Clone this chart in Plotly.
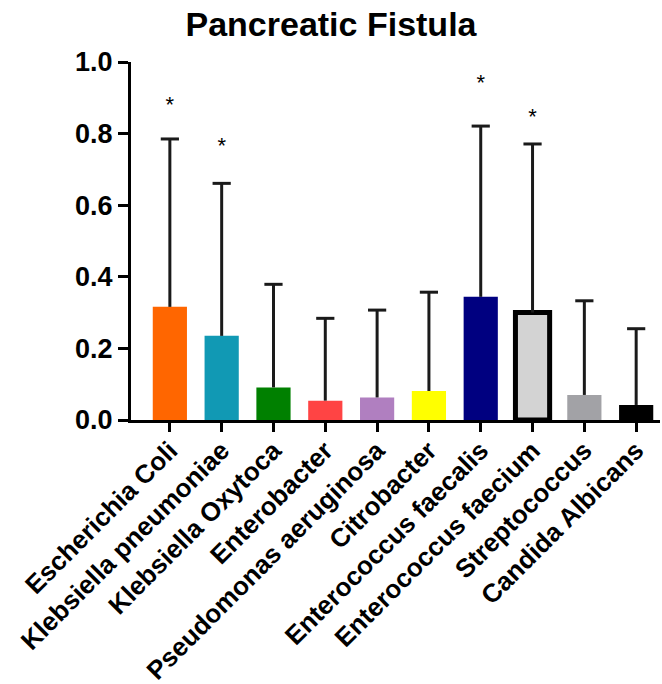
import plotly.graph_objects as go

categories = ["Escherichia Coli", "Klebsiella pneumoniae", "Klebsiella Oxytoca",
              "Enterobacter", "Pseudomonas aeruginosa", "Citrobacter",
              "Enterococcus faecalis", "Enterococcus faecium", "Streptococcus",
              "Candida Albicans"]
means = [0.316, 0.235, 0.091, 0.054, 0.063, 0.081, 0.344, 0.300, 0.070, 0.042]
upper = [0.785, 0.661, 0.379, 0.284, 0.307, 0.357, 0.821, 0.771, 0.333, 0.255]
colors = ["#ff6600", "#1199b4", "#008000", "#ff4444", "#b07fc0", "#ffff00",
          "#000080", "#d3d3d3", "#a2a2a6", "#000000"]
outline_w = [0, 0, 0, 0, 0, 0, 0, 5, 0, 0]
star_cats = ["Escherichia Coli", "Klebsiella pneumoniae", "Enterococcus faecalis",
             "Enterococcus faecium"]
star_y = [0.875, 0.762, 0.936, 0.843]
y_ticks = [0.0, 0.2, 0.4, 0.6, 0.8, 1.0]

err_plus = [u - m for u, m in zip(upper, means)]

fig = go.Figure()
fig.add_trace(go.Bar(
    x=categories, y=means, width=0.66,
    marker=dict(color=colors, line=dict(color="#000000", width=outline_w)),
    error_y=dict(type="data", symmetric=False, array=err_plus,
                 arrayminus=[0] * len(means), color="#1a1a1a",
                 thickness=3, width=0),
    showlegend=False,
))
# caps of the error bars
fig.add_trace(go.Scatter(
    x=categories, y=upper, mode="markers",
    marker=dict(symbol="line-ew", size=13, line=dict(color="#1a1a1a", width=3)),
    showlegend=False, hoverinfo="skip",
))
fig.add_trace(go.Scatter(
    x=star_cats, y=star_y, mode="text", text=["*"] * len(star_cats),
    textposition="middle center",
    textfont=dict(family="Liberation Sans, Arial", size=22, color="#000000"),
    showlegend=False, hoverinfo="skip",
))

fig.update_layout(
    width=662, height=684,
    margin=dict(l=131, r=2, t=62, b=264),
    paper_bgcolor="white", plot_bgcolor="white",
    title=dict(text="<b>Pancreatic Fistula</b>", x=0.5, xanchor="center",
               xref="container", y=1 - 24 / 684, yanchor="middle",
               font=dict(family="Liberation Sans, Arial", size=34, color="#000000")),
    bargap=0.34,
    font=dict(family="Liberation Sans, Arial", color="#000000"),
)
fig.update_xaxes(
    range=[-0.75, 9.46], showline=True, linecolor="#000000", linewidth=3,
    ticks="outside", ticklen=9, tickwidth=3, tickcolor="#000000",
    tickangle=-45, showgrid=False, zeroline=False, automargin=False,
    ticklabelstandoff=-7,
    tickfont=dict(family="Liberation Sans, Arial", size=26, color="#000000"),
    tickprefix="<b>", ticksuffix="</b>",
)
fig.update_yaxes(
    range=[0, 1.0], tickvals=y_ticks, ticktext=["<b>%.1f</b>" % v for v in y_ticks],
    showline=True, linecolor="#000000", linewidth=3,
    ticks="outside", ticklen=10, tickwidth=3, tickcolor="#000000",
    showgrid=False, zeroline=False, automargin=False,
    tickfont=dict(family="Liberation Sans, Arial", size=27, color="#000000"),
)

fig.write_html("out.html", config={"displayModeBar": False},
               post_script="document.body.style.margin='0';document.body.style.overflow='hidden';")
